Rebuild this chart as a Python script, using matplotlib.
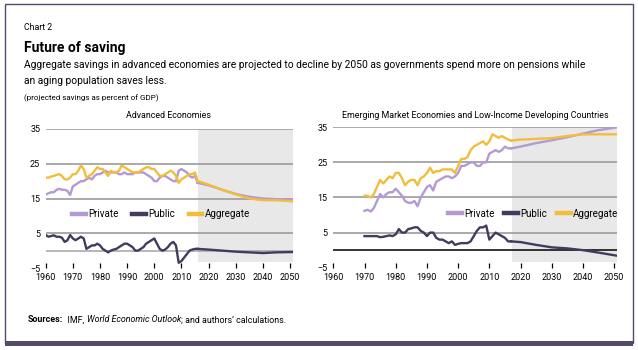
import matplotlib
matplotlib.use("Agg")
import matplotlib.pyplot as plt
from matplotlib.patches import Rectangle

plt.rcParams["font.family"] = ["Roboto", "DejaVu Sans"]

# ---- data (percent of GDP) ----
adv_hist_years = list(range(1960, 2017))
adv_private = [16.1, 16.5, 16.8, 16.8, 17.5, 17.8, 17.5, 17.5, 17.2, 16.0,
               18.5, 19.0, 19.5, 20.0, 20.0, 20.5, 21.0, 20.5, 21.5, 22.0,
               22.0, 22.5, 23.0, 22.5, 22.5, 22.5, 22.5, 22.0, 22.0, 22.5,
               22.0, 22.0, 22.0, 22.5, 22.5, 22.5, 22.5, 22.0, 21.5, 21.0,
               20.0, 20.0, 21.0, 21.5, 21.5, 21.0, 20.5, 20.0, 20.0, 23.0,
               23.5, 23.0, 22.5, 21.5, 21.0, 21.5, 19.5]
adv_aggregate = [21.0, 21.0, 21.3, 21.5, 21.8, 22.0, 21.5, 20.5, 20.5, 21.0,
                 22.0, 22.0, 23.0, 24.5, 23.5, 21.0, 21.5, 22.0, 23.0, 24.0,
                 23.5, 23.5, 22.5, 21.5, 23.0, 22.5, 22.5, 23.0, 24.5, 24.0,
                 23.5, 23.0, 22.5, 22.5, 22.5, 23.0, 23.5, 24.0, 24.0, 23.5,
                 23.5, 22.5, 21.5, 21.5, 22.0, 22.5, 23.0, 22.5, 21.5, 19.5,
                 20.5, 21.0, 21.5, 22.0, 22.0, 22.5, 20.0]
adv_public = [4.5, 4.0, 4.2, 4.4, 4.0, 4.0, 3.7, 2.5, 3.0, 4.5,
              3.5, 3.0, 3.5, 4.0, 3.5, 0.5, 1.0, 1.5, 1.5, 2.0,
              1.5, 0.5, 0.0, -0.5, 0.0, 0.3, 0.5, 1.0, 1.5, 2.0,
              2.0, 1.5, 1.0, 0.0, 0.0, 0.5, 1.0, 2.0, 2.5, 3.0,
              3.5, 2.0, 0.5, 0.0, 0.3, 1.0, 2.0, 2.5, 1.5, -3.5,
              -3.0, -2.0, -1.0, 0.0, 0.3, 0.5, 0.5]
adv_proj_years = [2016, 2020, 2025, 2030, 2035, 2040, 2045, 2051]
adv_private_proj = [19.5, 18.8, 17.5, 16.3, 15.5, 15.0, 14.8, 14.8]
adv_aggregate_proj = [20.0, 19.0, 17.5, 16.2, 15.0, 14.5, 14.5, 14.2]
adv_public_proj = [0.5, 0.3, 0.0, -0.3, -0.5, -0.7, -0.5, -0.4]

em_hist_years = list(range(1970, 2018))
em_private = [11.2, 11.5, 11.0, 12.0, 14.0, 16.0, 15.0, 16.0, 16.5, 16.5,
              17.5, 16.5, 15.5, 14.0, 13.5, 13.5, 14.0, 12.5, 15.0, 16.5,
              18.0, 18.5, 17.0, 19.5, 20.0, 20.5, 21.0, 21.0, 20.5, 21.0,
              22.0, 24.0, 24.0, 24.5, 25.0, 25.0, 24.0, 24.0, 25.0, 25.0,
              27.5, 28.0, 28.5, 28.0, 28.5, 29.5, 29.0, 29.0]
em_aggregate = [15.5, 15.5, 15.0, 16.0, 18.0, 20.0, 19.0, 20.0, 21.0, 20.5,
                22.0, 22.0, 20.5, 18.5, 19.5, 20.0, 20.0, 18.5, 20.5, 21.0,
                22.0, 23.5, 22.0, 22.5, 22.5, 23.0, 23.0, 23.0, 23.0, 22.0,
                24.0, 26.0, 26.0, 26.5, 28.5, 29.5, 30.0, 30.5, 31.0, 30.0,
                31.0, 33.0, 32.5, 32.0, 32.5, 32.0, 31.5, 31.2]
em_public = [4.0, 4.0, 4.0, 4.0, 4.0, 3.7, 3.8, 4.0, 4.2, 4.0,
             4.5, 6.0, 5.0, 5.0, 6.0, 6.2, 6.5, 6.5, 5.5, 5.0,
             4.0, 5.0, 5.0, 3.5, 3.0, 3.0, 2.5, 2.0, 2.5, 1.5,
             1.8, 2.0, 2.0, 2.0, 2.5, 4.0, 5.5, 6.5, 6.5, 7.0,
             3.0, 4.0, 5.0, 4.5, 4.0, 3.5, 2.5, 2.5]
em_proj_years = [2017, 2020, 2025, 2030, 2035, 2040, 2045, 2051]
em_private_proj = [29.0, 29.5, 30.5, 31.3, 32.2, 33.2, 34.2, 35.0]
em_aggregate_proj = [31.2, 31.5, 31.7, 31.9, 32.5, 33.0, 33.0, 33.0]
em_public_proj = [2.5, 2.3, 1.5, 0.8, 0.5, 0.0, -0.7, -1.6]

x_ticks = [1960, 1970, 1980, 1990, 2000, 2010, 2020, 2030, 2040, 2050]
y_ticks = [35, 25, 15, 5, -5]
y_ticklabels = ["35", "25", "15", "5", "\u22125"]
series_names = ["Private", "Public", "Aggregate"]

C_PRIV = "#b49ad2"
C_PUB = "#453a5e"
C_AGG = "#f2bd3a"
C_SHADE = "#e8e8e8"
C_GRID = "#a3a3a3"
C_FRAME = "#54486c"

W, H = 638, 350


def draw_panel(ax, years, priv, pub, agg, pyears, ppriv, ppub, pagg,
               shade_start, zero_color, legend_anchor, colspace):
    ax.set_xlim(1960, 2051)
    ax.set_ylim(-5, 35)
    ax.axvspan(shade_start, 2051, ymin=0.042, ymax=1.0, color=C_SHADE, lw=0, zorder=0)
    for g in [35, 25, 15, 5]:
        ax.axhline(g, color=C_GRID, lw=1.3, zorder=1)
    ax.axhline(0, color=zero_color, lw=1.1, zorder=1)

    lw = 1.7
    ax.plot(years, priv, color=C_PRIV, lw=lw, zorder=3, solid_joinstyle="round")
    ax.plot(years, agg, color=C_AGG, lw=lw, zorder=3, solid_joinstyle="round")
    ax.plot(years, pub, color=C_PUB, lw=lw, zorder=3, solid_joinstyle="round")
    ax.plot(pyears, ppriv, color=C_PRIV, lw=lw, zorder=3)
    ax.plot(pyears, pagg, color=C_AGG, lw=lw, zorder=3)
    ax.plot(pyears, ppub, color=C_PUB, lw=lw, zorder=3)

    for s in ax.spines.values():
        s.set_visible(False)
    ax.set_yticks(y_ticks)
    ax.set_yticklabels(y_ticklabels)
    ax.set_xticks(x_ticks)
    ax.tick_params(axis="y", length=0, labelsize=6.5, pad=4)
    ax.tick_params(axis="x", direction="in", length=3.5, width=0.9,
                   labelsize=6.5, pad=3.5)

    handles = [plt.Line2D([], [], color=c, lw=3.2) for c in (C_PRIV, C_PUB, C_AGG)]
    ax.legend(handles, series_names, ncol=3, frameon=False,
              loc="center left", bbox_to_anchor=legend_anchor, fontsize=7,
              handlelength=1.4, handletextpad=0.25, columnspacing=colspace,
              borderpad=0, borderaxespad=0)


fig = plt.figure(figsize=(W / 100, H / 100), dpi=100)
renderer = fig.canvas.get_renderer()

ax1 = fig.add_axes([45.7 / W, 1 - 268 / H, 247 / W, 139 / H])
ax2 = fig.add_axes([333.3 / W, 1 - 267.7 / H, 284 / W, 140.4 / H])

draw_panel(ax1, adv_hist_years, adv_private, adv_public, adv_aggregate,
           adv_proj_years, adv_private_proj, adv_public_proj, adv_aggregate_proj,
           2016, C_GRID, (0.107, 0.385), 1.4)
draw_panel(ax2, em_hist_years, em_private, em_public, em_aggregate,
           em_proj_years, em_private_proj, em_public_proj, em_aggregate_proj,
           2017.2, "black", (0.405, 0.385), 1.0)

# panel titles
fig.text(169 / W, 1 - 116 / H, "Advanced Economies", fontsize=6.4,
         ha="center", va="center")
fig.text(475 / W, 1 - 116 / H,
         "Emerging Market Economies and Low-Income Developing Countries",
         fontsize=6.4, ha="center", va="center")

# frame
fig.patches.append(Rectangle((5 / W, 1 - 343 / H), 628 / W, 339 / H,
                             transform=fig.transFigure, fill=False,
                             edgecolor=C_FRAME, lw=1.0))
fig.patches.append(Rectangle((5 / W, 1 - 346 / H), 628 / W, 5 / H,
                             transform=fig.transFigure, color=C_FRAME, lw=0))

# header text
fig.text(24 / W, 1 - 27 / H, "Chart 2", fontsize=6.3, va="center")
fig.text(24 / W, 1 - 48 / H, "Future of saving", fontsize=10,
         fontweight="bold", va="center")
fig.text(24 / W, 1 - 65 / H,
         "Aggregate savings in advanced economies are projected to decline by 2050 "
         "as governments spend more on pensions while",
         fontsize=7.4, va="center")
fig.text(24 / W, 1 - 81.5 / H, "an aging population saves less.",
         fontsize=7.4, va="center")
fig.text(24 / W, 1 - 98 / H, "(projected savings as percent of GDP)",
         fontsize=5.8, va="center")

# sources line, pieced together
x = 28 / W
y = 1 - 320 / H
for txt, kw in [("Sources:", dict(fontweight="bold")),
                ("  IMF, ", {}),
                ("World Economic Outlook", dict(style="italic")),
                ("; and authors\u2019 calculations.", {})]:
    t = fig.text(x, y, txt, fontsize=6.4, va="center", **kw)
    bb = t.get_window_extent(renderer=renderer)
    x += bb.width / fig.bbox.width

fig.savefig("out.png", dpi=100)
